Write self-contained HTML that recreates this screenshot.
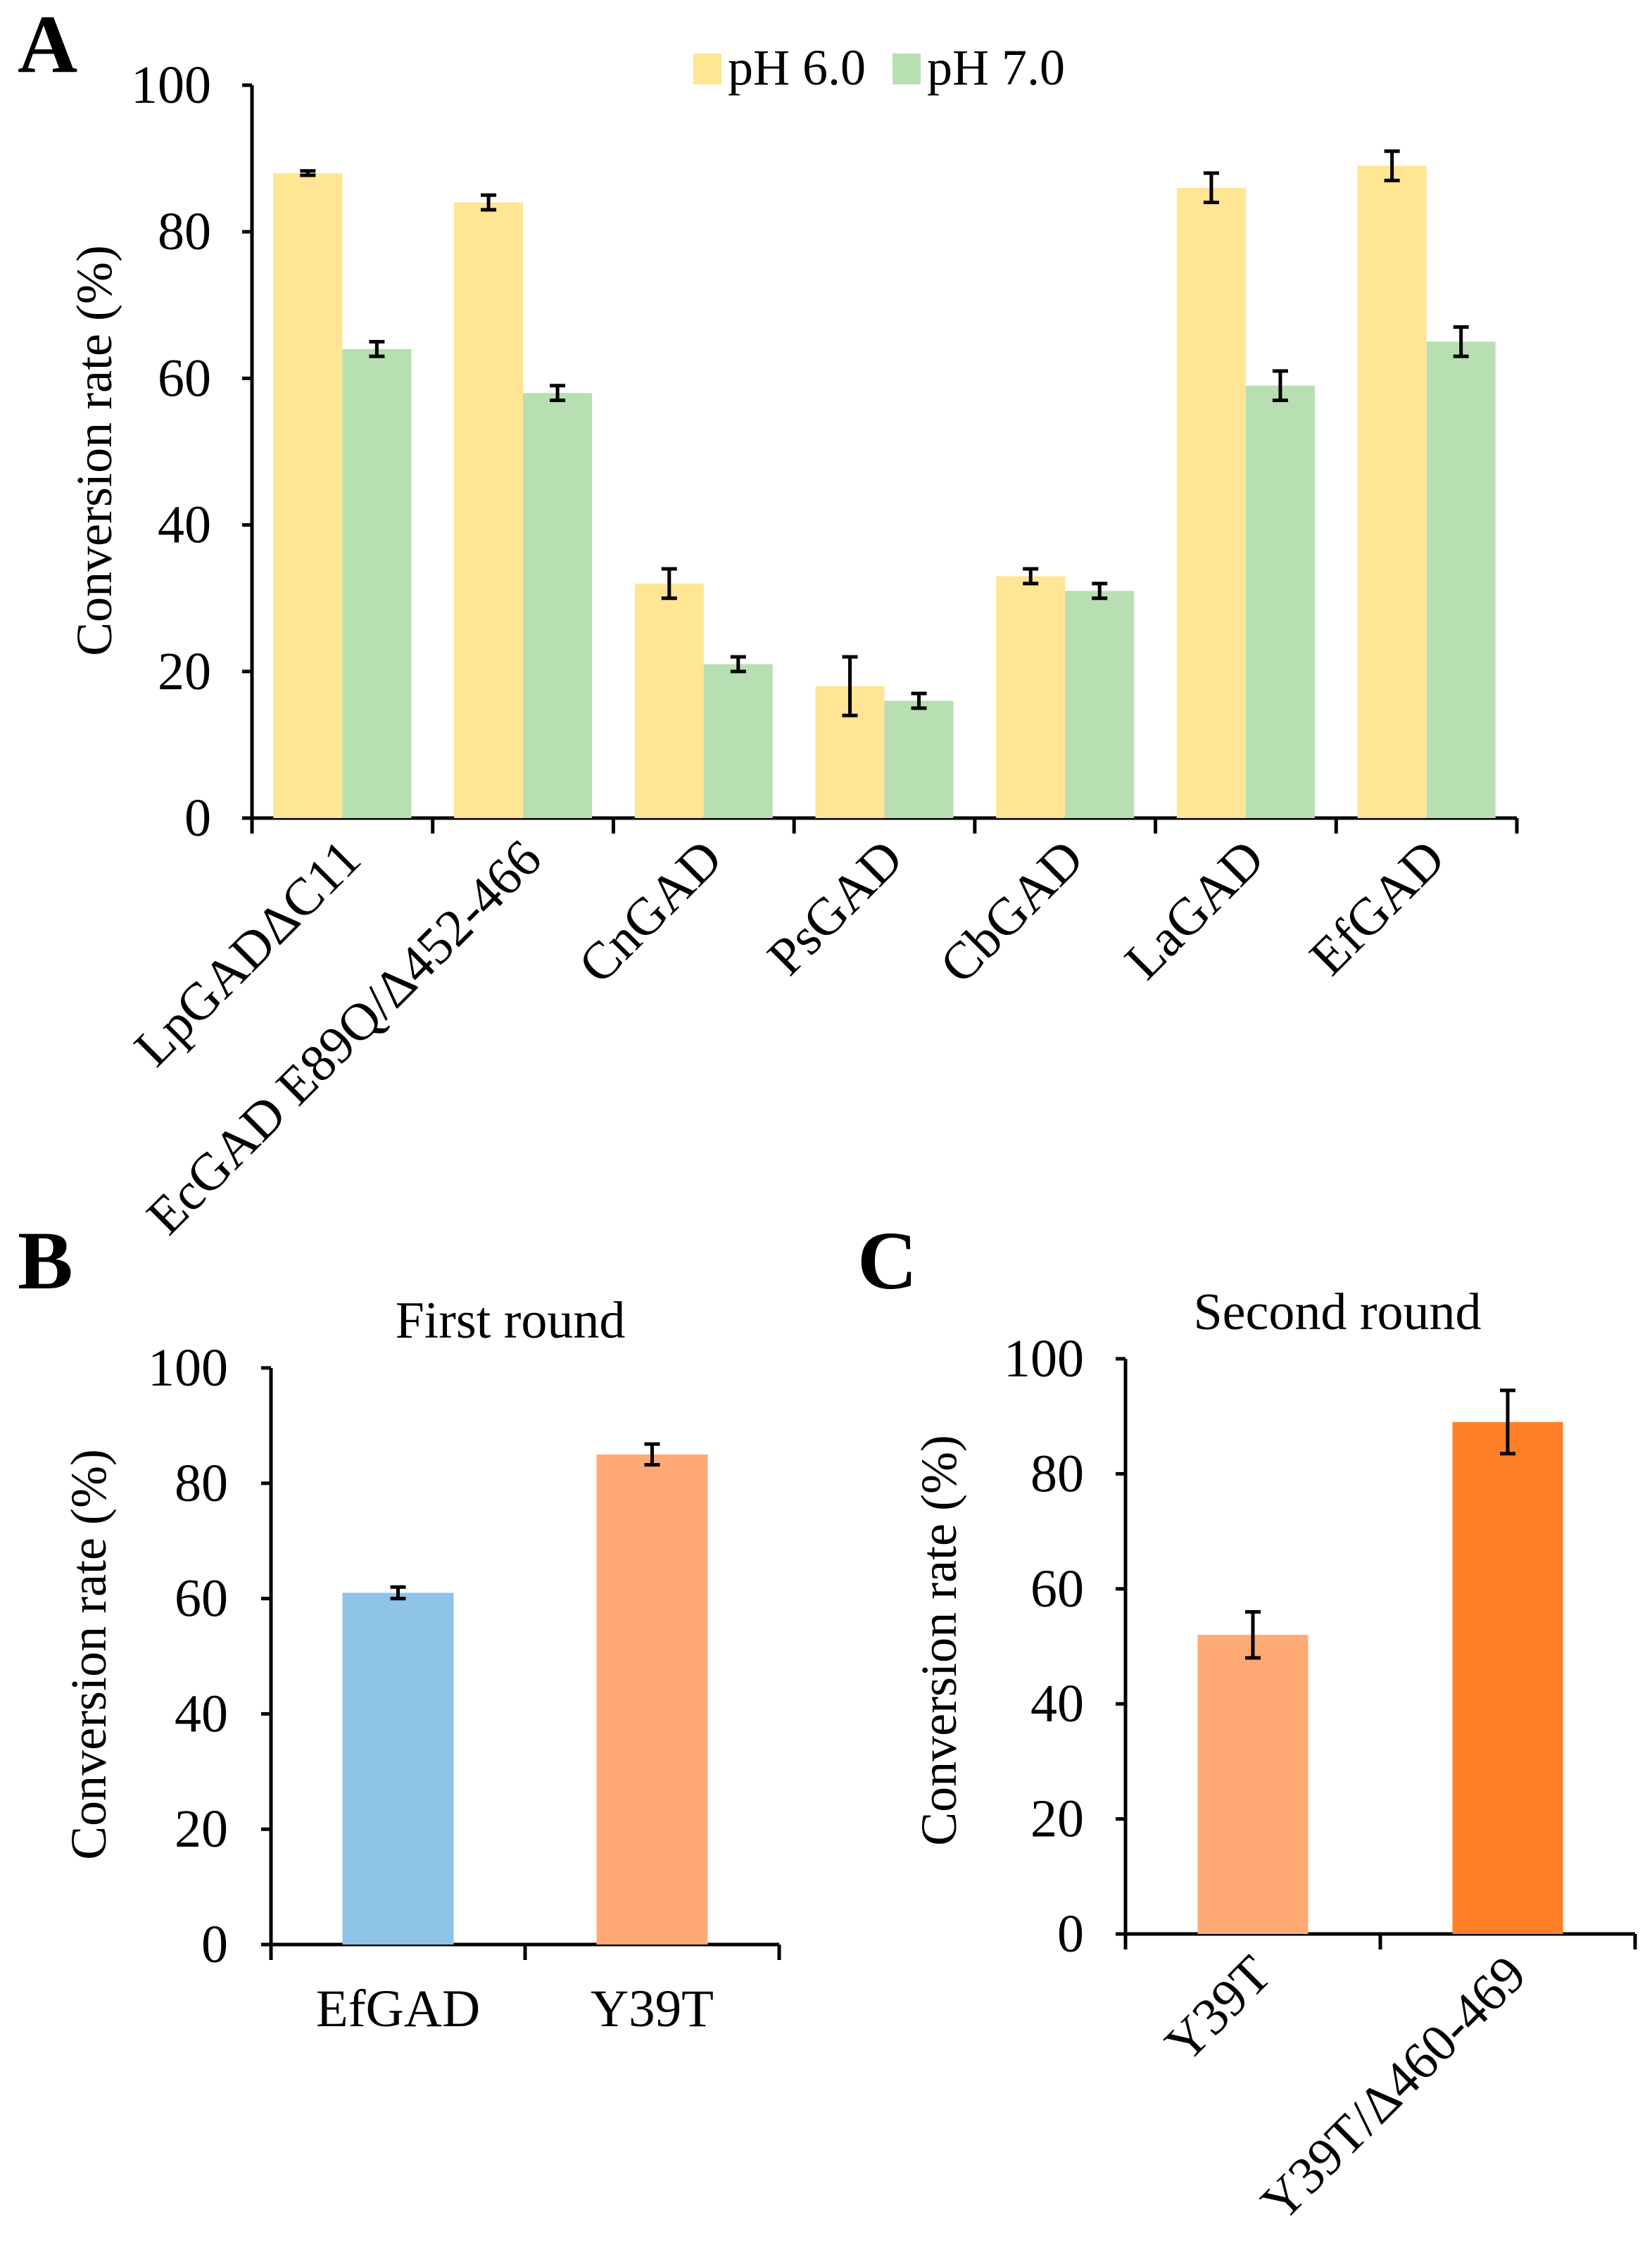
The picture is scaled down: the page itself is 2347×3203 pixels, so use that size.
<!DOCTYPE html>
<html><head><meta charset="utf-8">
<style>
html,body{margin:0;padding:0;background:#fff;}
svg{display:block;font-family:"Liberation Serif",serif;}
</style></head>
<body>
<svg id="fig" width="2347" height="3203" viewBox="0 0 2347 3203" xmlns="http://www.w3.org/2000/svg">
<rect width="2347" height="3203" fill="#fff"/>
<text x="25" y="102" font-size="118" font-weight="bold">A</text>
<text x="25" y="1830" font-size="118" font-weight="bold">B</text>
<text x="1218" y="1830" font-size="118" font-weight="bold">C</text>
<g>
  <rect x="985" y="76" width="40" height="44" fill="#FFE594"/>
  <text x="1034" y="120" font-size="72">pH 6.0</text>
  <rect x="1268" y="76" width="40" height="44" fill="#B7DFB2"/>
  <text x="1317" y="120" font-size="72">pH 7.0</text>
</g>
<text x="725" y="1900" font-size="74" text-anchor="middle">First round</text>
<text x="1900" y="1888" font-size="74" text-anchor="middle">Second round</text>
<g id="gA"></g><g id="gB"></g><g id="gC"></g>
</svg>
<script>
// Panel A data
const catsA = ["LpGAD\u0394C11","EcGAD E89Q/\u0394452-466","CnGAD","PsGAD","CbGAD","LaGAD","EfGAD"];
const ph6 = [88,84,32,18,33,86,89];
const ph6Err = [0.3,1,2,4,1,2,2];
const ph7 = [64,58,21,16,31,59,65];
const ph7Err = [1,1,1,1,1,2,2];
// Panel B data
const catsB = ["EfGAD","Y39T"];
const valsB = [61,85];
const errB = [1,1.8];
// Panel C data
const catsC = ["Y39T","Y39T/\u0394460-469"];
const valsC = [52,89];
const errC = [4,5.5];
const ticks = [0,20,40,60,80,100];

const NS="http://www.w3.org/2000/svg";
function mk(parent,tag,attrs){const e=document.createElementNS(NS,tag);for(const k in attrs)e.setAttribute(k,attrs[k]);parent.appendChild(e);return e;}

function axes(g,x0,x1,y0,y100,nCats,tickRight,titleX,titleY,prefix){
  const ys=v=>y0-(y0-y100)*v/100;
  let l=mk(g,'line',{x1:x0,y1:y0,x2:x0,y2:y100,stroke:'#000','stroke-width':5});
  
  
  l=mk(g,'line',{x1:x0-14,y1:y0,x2:x1,y2:y0,stroke:'#000','stroke-width':5});
  
  
  ticks.forEach(t=>{
    const tk=mk(g,'line',{x1:x0-14,y1:ys(t),x2:x0,y2:ys(t),stroke:'#000','stroke-width':5});
    
    
    const tx=mk(g,'text',{x:tickRight,y:ys(t)+25,'font-size':76,'text-anchor':'end'});
    tx.textContent=t;
    
    
  });
  const cw=(x1-x0)/nCats;
  for(let i=0;i<=nCats;i++){
    const tk=mk(g,'line',{x1:x0+i*cw,y1:y0,x2:x0+i*cw,y2:y0+22,stroke:'#000','stroke-width':5});
    
    
  }
  const tt=mk(g,'text',{x:titleX,y:titleY,'font-size':72,'text-anchor':'middle',transform:`rotate(-90 ${titleX} ${titleY})`});
  tt.textContent='Conversion rate (%)';
  
  
  return {ys,cw};
}
function bar(g,x,w,v,err,ys,color,name){
  const r=mk(g,'rect',{x:x,y:ys(v),width:w,height:ys(0)-ys(v),fill:color});
  
  
  const cx=x+w/2;
  const eg=mk(g,'g',{stroke:'#000','stroke-width':5});
  
  
  mk(eg,'line',{x1:cx,y1:ys(v+err),x2:cx,y2:ys(v-err)});
  mk(eg,'line',{x1:cx-11,y1:ys(v+err),x2:cx+11,y2:ys(v+err)});
  mk(eg,'line',{x1:cx-11,y1:ys(v-err),x2:cx+11,y2:ys(v-err)});
}
function catLabel(g,x,y,txt,rot,name){
  const t=mk(g,'text',rot?{x:x,y:y,'font-size':75,'text-anchor':'end',transform:`rotate(-45 ${x} ${y})`}:{x:x,y:y,'font-size':75,'text-anchor':'middle'});
  t.textContent=txt;
  
  
}

// Panel A
(function(){
  const g=document.getElementById('gA');
  const x0=358,x1=2155,y0=1162,y100=121;
  const {ys,cw}=axes(g,x0,x1,y0,y100,catsA.length,300,158,640,'chart-a');
  const bw=98;
  catsA.forEach((c,i)=>{
    const gx=x0+i*cw+(cw-2*bw)/2;
    bar(g,gx,bw,ph6[i],ph6Err[i],ys,'#FFE594','bar-ph6-'+i);
    bar(g,gx+bw,bw,ph7[i],ph7Err[i],ys,'#B7DFB2','bar-ph7-'+i);
    catLabel(g,x0+i*cw+cw/2+30,y0+62,c,true,'x-label-'+i);
  });
})();
// Panel B
(function(){
  const g=document.getElementById('gB');
  const x0=385,x1=1107,y0=2762,y100=1943;
  const {ys,cw}=axes(g,x0,x1,y0,y100,catsB.length,324,150,2350,'chart-b');
  const colors=['#8DC4E8','#FFAA75'];
  const bw=158;
  catsB.forEach((c,i)=>{
    bar(g,x0+i*cw+(cw-bw)/2,bw,valsB[i],errB[i],ys,colors[i],'bar-b-'+i);
    catLabel(g,x0+i*cw+cw/2,2878,c,false,'x-label-b-'+i);
  });
})();
// Panel C
(function(){
  const g=document.getElementById('gC');
  const x0=1599,x1=2323,y0=2747,y100=1930;
  const {ys,cw}=axes(g,x0,x1,y0,y100,catsC.length,1540,1358,2330,'chart-c');
  const colors=['#FFAA75','#FF7F27'];
  const bw=157;
  catsC.forEach((c,i)=>{
    bar(g,x0+i*cw+(cw-bw)/2,bw,valsC[i],errC[i],ys,colors[i],'bar-c-'+i);
    catLabel(g,x0+i*cw+cw/2+30,y0+62,c,true,'x-label-c-'+i);
  });
})();
</script>
</body></html>
